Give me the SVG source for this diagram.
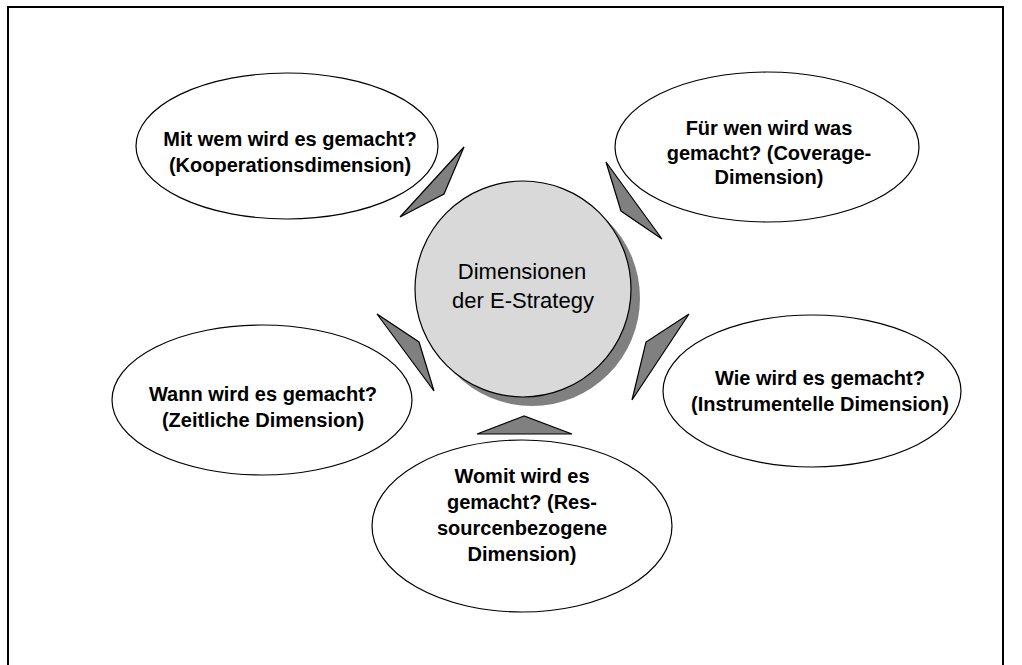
<svg xmlns="http://www.w3.org/2000/svg" width="1022" height="665" viewBox="0 0 1022 665">
  <style>
    .frame { fill: none; stroke: #000; stroke-width: 2; }
    .bubble { fill: #fff; stroke: #000; stroke-width: 1.2; }
    .pointer { fill: #808080; stroke: #000; stroke-width: 1.2; stroke-linejoin: miter; }
    .label { font-family: "Liberation Sans", Arial, sans-serif; font-size: 20px; font-weight: bold; fill: #000; text-anchor: middle; }
    .hub-label { font-family: "Liberation Sans", Arial, sans-serif; font-size: 22px; fill: #000; text-anchor: middle; }
  </style>

  <rect width="1022" height="665" fill="#fff"/>
  <!-- outer frame, open at the bottom -->
  <path class="frame" d="M8,665 V7 H1003 V665"/>

  <!-- central hub -->
  <g id="hub">
    <circle cx="532" cy="298" r="108" fill="#808080"/>
    <circle cx="523" cy="289" r="108" fill="#d9d9d9" stroke="#000" stroke-width="1.2"/>
    <text class="hub-label" x="522" y="279">Dimensionen</text>
    <text class="hub-label" x="523" y="308">der E-Strategy</text>
  </g>

  <!-- pointers between hub and dimensions -->
  <g id="connectors">
    <polygon class="pointer" points="464,147 444,194 400,217"/>
    <polygon class="pointer" points="606,162 621,211 662,239"/>
    <polygon class="pointer" points="377,314 419,342 434,391"/>
    <polygon class="pointer" points="689,314 646,342 632,400"/>
    <polygon class="pointer" points="524,416 477,434 572,434"/>
  </g>

  <g id="kooperation">
    <ellipse class="bubble" cx="287" cy="146" rx="151" ry="73"/>
    <text class="label" x="290" y="146">Mit wem wird es gemacht?</text>
    <text class="label" x="290" y="172">(Kooperationsdimension)</text>
  </g>

  <g id="coverage">
    <ellipse class="bubble" cx="767" cy="147" rx="152" ry="75"/>
    <text class="label" x="769" y="135">Für wen wird was</text>
    <text class="label" x="769" y="160">gemacht? (Coverage-</text>
    <text class="label" x="769" y="184">Dimension)</text>
  </g>

  <g id="zeitlich">
    <ellipse class="bubble" cx="262" cy="400" rx="150" ry="75"/>
    <text class="label" x="263" y="401">Wann wird es gemacht?</text>
    <text class="label" x="263" y="427">(Zeitliche Dimension)</text>
  </g>

  <g id="instrumentell">
    <ellipse class="bubble" cx="812" cy="391" rx="149" ry="76"/>
    <text class="label" x="820" y="385">Wie wird es gemacht?</text>
    <text class="label" x="820" y="411">(Instrumentelle Dimension)</text>
  </g>

  <g id="ressourcen">
    <ellipse class="bubble" cx="522" cy="526" rx="150" ry="86"/>
    <text class="label" x="522" y="483">Womit wird es</text>
    <text class="label" x="522" y="509">gemacht? (Res-</text>
    <text class="label" x="522" y="535">sourcenbezogene</text>
    <text class="label" x="522" y="561">Dimension)</text>
  </g>
</svg>
